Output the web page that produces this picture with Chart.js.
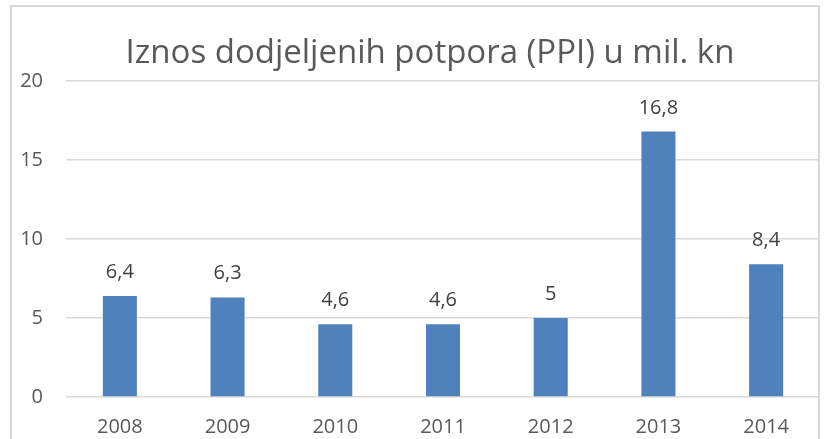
<!DOCTYPE html>
<html>
<head>
<meta charset="utf-8">
<script src="https://cdn.jsdelivr.net/npm/chart.js@4"></script>
<style>
  html, body { margin: 0; padding: 0; background: #fff; }
  #wrap { position: relative; width: 832px; height: 439px; overflow: hidden; }
  #frame { position: absolute; left: 10px; top: 5px; width: 810px; height: 460px;
           border: 2px solid #d9d9d9; box-sizing: border-box; }
  canvas { position: absolute; left: 0; top: 0; }
</style>
</head>
<body>
<div id="wrap">
  <div id="frame"></div>
  <canvas id="chart" width="832" height="439"></canvas>
</div>
<script>
// Données du graphique
const years = ["2008", "2009", "2010", "2011", "2012", "2013", "2014"];
const amounts = [6.4, 6.3, 4.6, 4.6, 5, 16.8, 8.4];
const chartTitle = "Iznos dodjeljenih potpora (PPI) u mil. kn";

const FONT = "'Open Sans', sans-serif";

// Titre centré sur le cadre (pas sur la zone du canvas)
const frameTitle = {
  id: "frameTitle",
  afterDraw(chart) {
    const ctx = chart.ctx;
    ctx.save();
    ctx.font = "33px " + FONT;
    ctx.fillStyle = "#595959";
    ctx.textAlign = "center";
    ctx.textBaseline = "alphabetic";
    ctx.fillText(chartTitle, 430, 63);
    ctx.restore();
  }
};

// Étiquettes de valeurs au-dessus des barres (virgule décimale)
const valueLabels = {
  id: "valueLabels",
  afterDatasetsDraw(chart) {
    const ctx = chart.ctx;
    const meta = chart.getDatasetMeta(0);
    ctx.save();
    ctx.font = "20px " + FONT;
    ctx.fillStyle = "#404040";
    ctx.textAlign = "center";
    ctx.textBaseline = "alphabetic";
    meta.data.forEach((bar, i) => {
      const txt = String(amounts[i]).replace(".", ",");
      ctx.fillText(txt, bar.x, bar.y - 18);
    });
    ctx.restore();
  }
};

new Chart(document.getElementById("chart"), {
  type: "bar",
  data: {
    labels: years,
    datasets: [{
      data: amounts,
      backgroundColor: "#4F81BD",
      barPercentage: 1,
      categoryPercentage: 0.316
    }]
  },
  options: {
    responsive: false,
    animation: false,
    layout: { padding: { left: 18, right: 12, top: 81, bottom: 0 } },
    plugins: {
      legend: { display: false },
      tooltip: { enabled: false },
      title: { display: false }
    },
    scales: {
      x: {
        grid: { display: false },
        border: { display: false },
        ticks: { color: "#595959", font: { family: FONT, size: 20 }, padding: 10 },
        afterFit(scale) { scale.height = 42; }
      },
      y: {
        min: 0,
        max: 20,
        ticks: { stepSize: 5, color: "#595959", font: { family: FONT, size: 20 }, padding: 23 },
        grid: { color: "#d9d9d9", lineWidth: 1.5, drawTicks: false },
        border: { display: false },
        afterFit(scale) { scale.width = 48; }
      }
    }
  },
  plugins: [valueLabels, frameTitle]
});
</script>
</body>
</html>
